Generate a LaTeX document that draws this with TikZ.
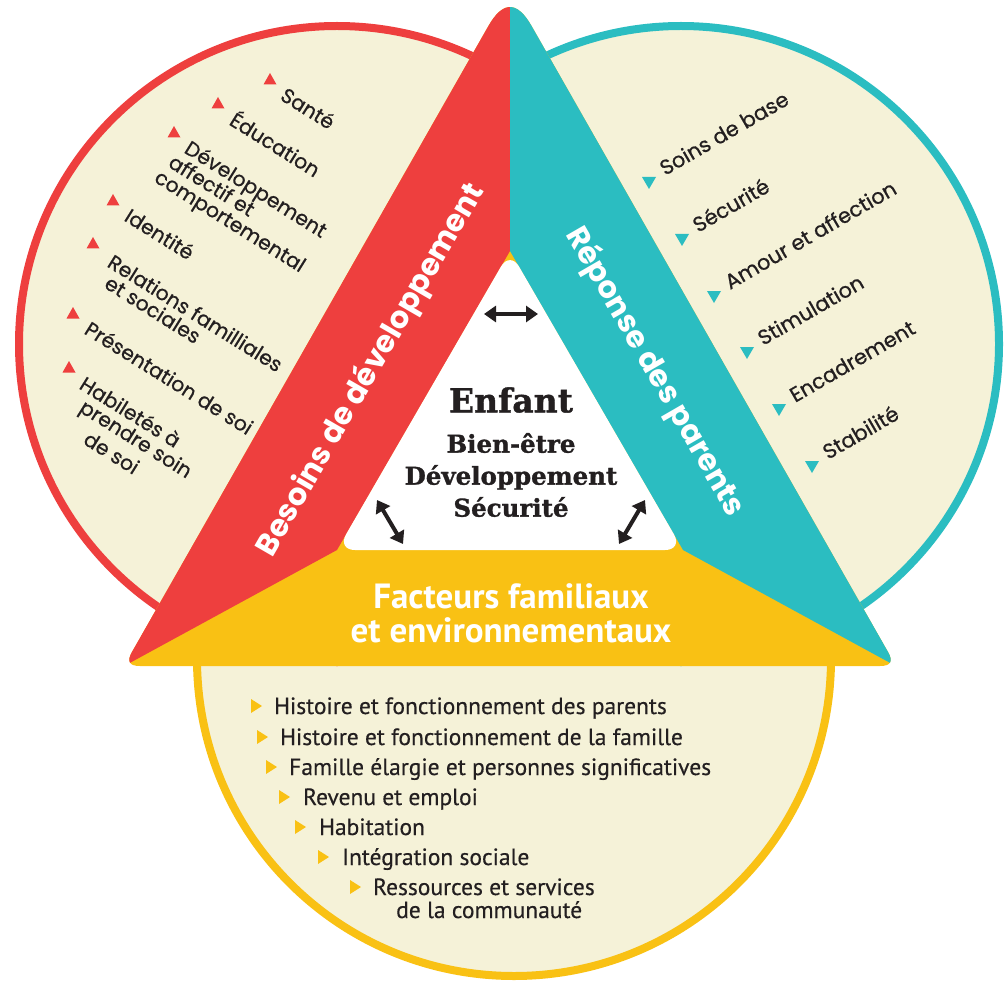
\documentclass[tikz,border=0pt]{standalone}
\usepackage{fontspec}
\setmainfont{Poppins}
\newfontfamily\popm{Poppins}[FakeBold=0.7]
\newfontfamily\condf{PT Sans}[FakeBold=0.4]
\newfontfamily\condb{PT Sans Bold}
\newfontfamily\slabf{DejaVu Serif Bold}[FakeBold=1.2]
\usetikzlibrary{arrows.meta}
\definecolor{redc}{HTML}{EE3F3E}
\definecolor{tealc}{HTML}{2BBDC1}
\definecolor{yelc}{HTML}{F9C114}
\definecolor{creamc}{HTML}{F5F2D8}
\definecolor{inkc}{HTML}{231F20}
\newcommand\lmk[2]{\fill[redc] (#1-6.5,#2+5.5) -- (#1+6.5,#2+5.5) -- (#1,#2-6) -- cycle;}
\newcommand\rmk[2]{\fill[tealc] (#1-7,#2-6) -- (#1+7,#2-6) -- (#1,#2+6) -- cycle;}
\newcommand\bmk[2]{\fill[yelc] (#1-5,#2-7) -- (#1-5,#2+7) -- (#1+6,#2) -- cycle;}
\begin{document}
\begin{tikzpicture}[x=1pt,y=-1pt,
  circ/.style={fill=creamc, line width=8pt},
  ltxt/.style={font=\popm\fontsize{20.3}{20}\selectfont, text=inkc, inner sep=0pt, anchor=base west, rotate=-32},
  rtxt/.style={font=\popm\fontsize{20.8}{20}\selectfont, text=inkc, inner sep=0pt, anchor=base west, rotate=30},
  btxt/.style={font=\condf\fontsize{23.5}{23.5}\selectfont, text=inkc, inner sep=0pt, anchor=base west},
  ttl/.style={font=\bfseries\fontsize{30.5}{30}\selectfont, text=white, inner sep=0pt},
  dbl/.style={line width=4pt, draw=inkc, {Triangle[length=12pt,width=16pt]}-{Triangle[length=12pt,width=16pt]}}]
\useasboundingbox (0,0) rectangle (1006,984);
% circles
\draw[circ, draw=yelc] (514,659) circle[radius=317pt];
\draw[circ, draw=redc] (337,344) circle[radius=318pt];
\draw[circ, draw=tealc] (681,344) circle[radius=318pt];
% left list
\lmk{270}{79} \node[ltxt] (l1) at (279,99) {Santé};
\lmk{218}{103} \node[ltxt] (l2) at (228,124) {Éducation};
\lmk{174}{132} \node[ltxt] (l3a) at (183,152) {Développement};
\node[ltxt] (l3b) at (167,166) {affectif et};
\node[ltxt] (l3c) at (153,181) {comportemental};
\lmk{113}{200} \node[ltxt] (l4) at (123,220) {Identité};
\lmk{93}{243} \node[ltxt] (l5a) at (106,266) {Relations familliales};
\node[ltxt] (l5b) at (103,287) {et sociales};
\lmk{73}{313} \node[ltxt] (l6) at (83,333) {Présentation de soi};
\lmk{69}{367} \node[ltxt] (l7a) at (78,388) {Habiletés à};
\node[ltxt] (l7b) at (78,411) {prendre soin};
\node[ltxt] (l7c) at (82,443) {de soi};
% right list
\rmk{649}{183} \node[rtxt] (r1) at (665,176) {Soins de base};
\rmk{682}{240} \node[rtxt] (r2) at (698,233) {Sécurité};
\rmk{714}{297} \node[rtxt] (r3) at (730,290) {Amour et affection};
\rmk{747}{353} \node[rtxt] (r4) at (763,346) {Stimulation};
\rmk{779}{410} \node[rtxt] (r5) at (795,403) {Encadrement};
\rmk{812}{467} \node[rtxt] (r6) at (828,460) {Stabilité};
% bottom list
\bmk{256}{706} \node[btxt] (b1) at (274,714) {Histoire et fonctionnement des parents};
\bmk{262}{737} \node[btxt] (b2) at (280,745) {Histoire et fonctionnement de la famille};
\bmk{271}{767} \node[btxt] (b3) at (289,775) {Famille élargie et personnes significatives};
\bmk{284}{797} \node[btxt] (b4) at (303,805) {Revenu et emploi};
\bmk{300}{827} \node[btxt] (b5) at (319,835) {Habitation};
\bmk{323}{857} \node[btxt] (b6) at (342,865) {Intégration sociale};
\bmk{355}{887} \node[btxt] (b7a) at (373,895) {Ressources et services};
\node[btxt] (b7b) at (396,918) {de la communauté};
% bands
\begin{scope}
\clip (488.4,26) .. controls (502.8,0.7) and (517.2,0.7) .. (531.6,26)
  -- (888.1,652.1) .. controls (893.4,661.4) and (890.7,666) .. (880,666)
  -- (140,666) .. controls (129.3,666) and (126.6,661.4) .. (131.9,652.1) -- cycle;
\fill[yelc] (0,-50) rectangle (1020,720);
\fill[redc] (510,-50) -- (510,251) -- (337,550) -- (60,701) -- (-100,701) -- (-100,-50) -- cycle;
\fill[tealc] (510,-50) -- (510,251) -- (683,550) -- (960,701) -- (1120,701) -- (1120,-50) -- cycle;
\end{scope}
\fill[white, rounded corners=18pt] (510,251) -- (683,550) -- (337,550) -- cycle;
% titles
\node[ttl, rotate=60] (besoins) at (371,370) {Besoins de développement};
\node[ttl, rotate=-60] (reponse) at (655,372) {Réponse des parents};
\node[font=\condb\fontsize{35}{34}\selectfont, text=white, align=center, inner sep=0pt] (facteurs) at (511,613) {Facteurs familiaux\\et environnementaux};
% centre
\node[font=\slabf\fontsize{33}{33}\selectfont, text=inkc, inner sep=0pt] (enfant) at (511,400) {Enfant};
\node[font=\slabf\fontsize{24.5}{32}\selectfont, text=inkc, align=center, inner sep=0pt] (bien) at (511,475) {Bien-être\\Développement\\Sécurité};
% arrows
\coordinate (t1) at (484,314); \coordinate (t2) at (538,314);
\coordinate (bl1) at (377,500); \coordinate (bl2) at (403,544);
\coordinate (br1) at (645,500); \coordinate (br2) at (619,544);
\draw[dbl] (t1) -- (t2);
\draw[dbl] (bl1) -- (bl2);
\draw[dbl] (br1) -- (br2);
\end{tikzpicture}
\end{document}
